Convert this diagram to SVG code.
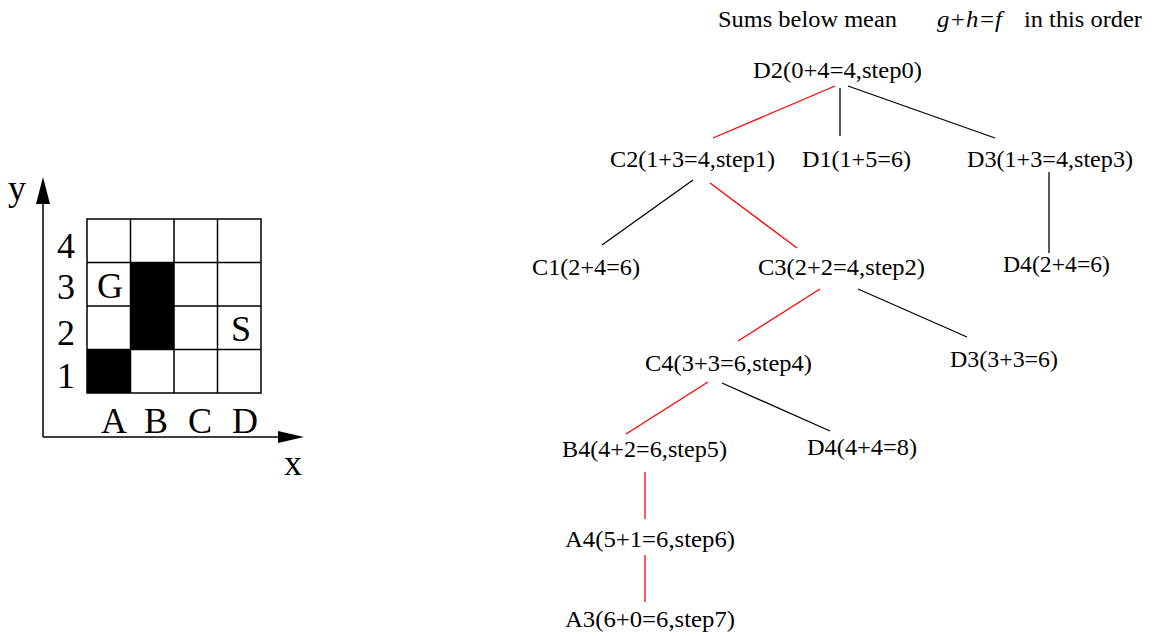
<svg xmlns="http://www.w3.org/2000/svg" width="1154" height="636" viewBox="0 0 1154 636">
<style>
text{font-family:"Liberation Serif","Times New Roman",serif;fill:#000}
.t{font-size:23px}
.g{font-size:36px;text-anchor:middle}
.blk{stroke:#000;stroke-width:1.3;fill:none}
.red{stroke:#ff0000;stroke-width:1.3;fill:none}
.grid{stroke:#000;stroke-width:1.5;fill:none}
</style>
<rect width="1154" height="636" fill="#fff"/>
<g id="gridmap">
<rect x="87" y="349.5" width="43.5" height="43.5" fill="#000"/>
<rect x="130.5" y="262.5" width="43.5" height="87" fill="#000"/>
<rect class="grid" x="87" y="219" width="174" height="174"/>
<path class="grid" d="M130.5 219V393M174 219V393M217.5 219V393M87 262.5H261M87 306H261M87 349.5H261"/>
<path class="grid" d="M43 437V200M43 437H280"/>
<polygon points="43,177 36,204 50,204" fill="#000"/>
<polygon points="304,437 278,431 278,443" fill="#000"/>
<text class="g" x="17" y="200">y</text>
<text class="g" x="293" y="475">x</text>
<text class="g" x="66" y="258">4</text>
<text class="g" x="66" y="299">3</text>
<text class="g" x="66" y="345">2</text>
<text class="g" x="66" y="388">1</text>
<text class="g" x="114" y="433">A</text>
<text class="g" x="156" y="433">B</text>
<text class="g" x="200" y="433">C</text>
<text class="g" x="245" y="433">D</text>
<text class="g" x="110" y="298">G</text>
<text class="g" x="241" y="341">S</text>
</g>
<g id="title">
<text class="t" x="718" y="27" textLength="179" lengthAdjust="spacingAndGlyphs">Sums below mean</text>
<text class="t" x="937" y="27" textLength="65" lengthAdjust="spacingAndGlyphs" font-style="italic">g+h=f</text>
<text class="t" x="1024" y="27" textLength="118" lengthAdjust="spacingAndGlyphs">in this order</text>
</g>
<g id="connectors">
<line class="blk" x1="840" y1="88" x2="840" y2="136"/>
<line class="red" x1="835" y1="86" x2="713" y2="138"/>
<line class="blk" x1="848" y1="86" x2="995" y2="138"/>
<line class="blk" x1="693" y1="180" x2="602" y2="245"/>
<line class="red" x1="710" y1="183" x2="797" y2="248"/>
<line class="blk" x1="1049" y1="172" x2="1049" y2="253"/>
<line class="red" x1="820" y1="289" x2="738" y2="341"/>
<line class="blk" x1="858" y1="289" x2="967" y2="337"/>
<line class="red" x1="708" y1="382" x2="626" y2="434"/>
<line class="blk" x1="722" y1="383" x2="830" y2="431"/>
<line class="red" x1="645" y1="472" x2="645" y2="519"/>
<line class="red" x1="645" y1="555" x2="645" y2="602"/>
</g>
<g id="n_D2"><text class="t" x="753" y="78" textLength="169" lengthAdjust="spacingAndGlyphs">D2(0+4=4,step0)</text></g>
<g id="n_C2"><text class="t" x="610" y="167" textLength="165" lengthAdjust="spacingAndGlyphs">C2(1+3=4,step1)</text></g>
<g id="n_D1"><text class="t" x="802" y="167" textLength="109" lengthAdjust="spacingAndGlyphs">D1(1+5=6)</text></g>
<g id="n_D3a"><text class="t" x="967" y="167" textLength="166" lengthAdjust="spacingAndGlyphs">D3(1+3=4,step3)</text></g>
<g id="n_C1"><text class="t" x="532" y="275" textLength="108" lengthAdjust="spacingAndGlyphs">C1(2+4=6)</text></g>
<g id="n_C3"><text class="t" x="758" y="275" textLength="167" lengthAdjust="spacingAndGlyphs">C3(2+2=4,step2)</text></g>
<g id="n_D4a"><text class="t" x="1003" y="272" textLength="107" lengthAdjust="spacingAndGlyphs">D4(2+4=6)</text></g>
<g id="n_C4"><text class="t" x="645" y="371" textLength="167" lengthAdjust="spacingAndGlyphs">C4(3+3=6,step4)</text></g>
<g id="n_D3b"><text class="t" x="950" y="367" textLength="108" lengthAdjust="spacingAndGlyphs">D3(3+3=6)</text></g>
<g id="n_B4"><text class="t" x="562" y="457" textLength="165" lengthAdjust="spacingAndGlyphs">B4(4+2=6,step5)</text></g>
<g id="n_D4b"><text class="t" x="807" y="455" textLength="110" lengthAdjust="spacingAndGlyphs">D4(4+4=8)</text></g>
<g id="n_A4"><text class="t" x="565" y="547" textLength="170" lengthAdjust="spacingAndGlyphs">A4(5+1=6,step6)</text></g>
<g id="n_A3"><text class="t" x="565" y="627" textLength="170" lengthAdjust="spacingAndGlyphs">A3(6+0=6,step7)</text></g>
</svg>
